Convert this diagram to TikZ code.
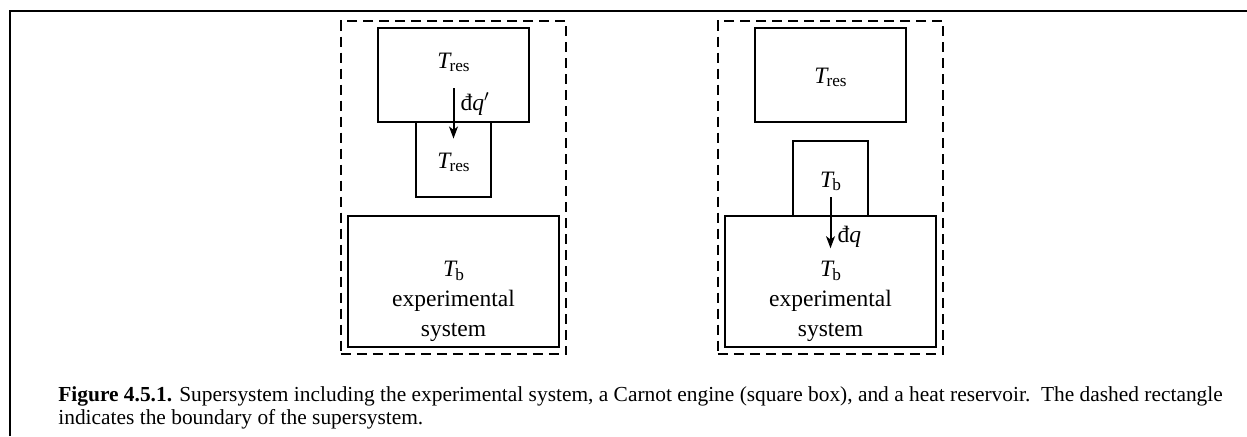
\documentclass[tikz,border=0pt]{standalone}
\usepackage{fontspec}
\setmainfont{Liberation Serif}
\usetikzlibrary{positioning,arrows.meta,fit}
\definecolor{csInk}{HTML}{000000}
\newcommand{\tsub}[2]{\textit{#1}\kern-0.1em\raisebox{-0.32ex}{\fontsize{8.6}{9}\selectfont #2}}
\newcommand{\dbar}{đ}
\tikzset{
  cs-box/.style={
    draw=csInk, line width=1pt, outer sep=0pt, inner sep=0pt,
    font=\fontsize{11.75}{15}\selectfont, align=center,
    text height=8.5pt, text depth=0pt
  },
  cs-res/.style={cs-box, minimum width=75.5pt, minimum height=47pt},
  cs-eng/.style={cs-box, minimum width=37.5pt, minimum height=37.5pt},
  cs-exp/.style={cs-box, minimum width=105.5pt, minimum height=65.5pt},
  cs-text/.style={font=\fontsize{11.75}{15}\selectfont, inner sep=0pt},
  cs-bound/.style={draw=csInk, line width=0.75pt,
    dash pattern=on 5pt off 3pt, inner sep=3.6pt},
  cs-flow/.style={-{Stealth[length=6pt,width=4.4pt,inset=1.6pt]},
    line width=1pt, draw=csInk},
  cs-label/.style={cs-text, anchor=west, xshift=3pt},
  cs-frame/.style={draw=csInk, line width=1pt},
  cs-caption/.style={font=\fontsize{10.7}{11.5}\selectfont, align=left,
    anchor=base west, inner sep=0pt}
}

\begin{document}
\begin{tikzpicture}[x=0.5pt, y=-0.5pt]
\useasboundingbox (0,0) rectangle (1247,436);
% --- Frame ---
\coordinate (frameBL) at (10,436);
\coordinate (frameTL) at (10,11);
\coordinate (frameTR) at (1247,11);
\draw[cs-frame] (frameBL) -- (frameTL) -- (frameTR);

% --- Left: engine under the reservoir ---
\node[cs-res, label={[cs-text, text height=8.5pt, text depth=0pt,
  yshift=7.75pt]center:\tsub{T}{res}}] (resA) at (453.5,75) {};
\node[cs-eng, below=0pt of resA] (engA) {\tsub{T}{res}};
\node[cs-exp, below=9.5pt of engA, label={[cs-text, align=center,
  yshift=-10pt]center:\tsub{T}{b}\\ experimental\\ system}] (expA) {};
\node[cs-bound, fit=(resA) (expA)] (bndA) {};

% --- Right: engine on the system ---
\node[cs-res] (resB) at (830.5,75) {\tsub{T}{res}};
\node[cs-eng, below=9.5pt of resB] (engB) {\tsub{T}{b}};
\node[cs-exp, below=0pt of engB, label={[cs-text, align=center,
  yshift=-10pt]center:\tsub{T}{b}\\ experimental\\ system}] (expB) {};
\node[cs-bound, fit=(resB) (expB)] (bndB) {};

% --- Heat ---
\draw[cs-flow] ([yshift=16.85pt]resA.south) -- ([yshift=-8.3pt]resA.south)
  node[cs-label, pos=0.32] {\dbar\textit{q}$'$};
\draw[cs-flow] ([yshift=9.35pt]engB.south) -- ([yshift=-16.15pt]engB.south)
  node[cs-label, pos=0.78] {\dbar\textit{q}};

% --- Caption ---
\node[cs-caption] (caption) at (58,424)
  {\textbf{Figure 4.5.1.} Supersystem including the experimental system,
  a Carnot engine (square box), and a heat reservoir.\ \ The dashed rectangle\\
  indicates the boundary of the supersystem.};
\end{tikzpicture}
\end{document}
